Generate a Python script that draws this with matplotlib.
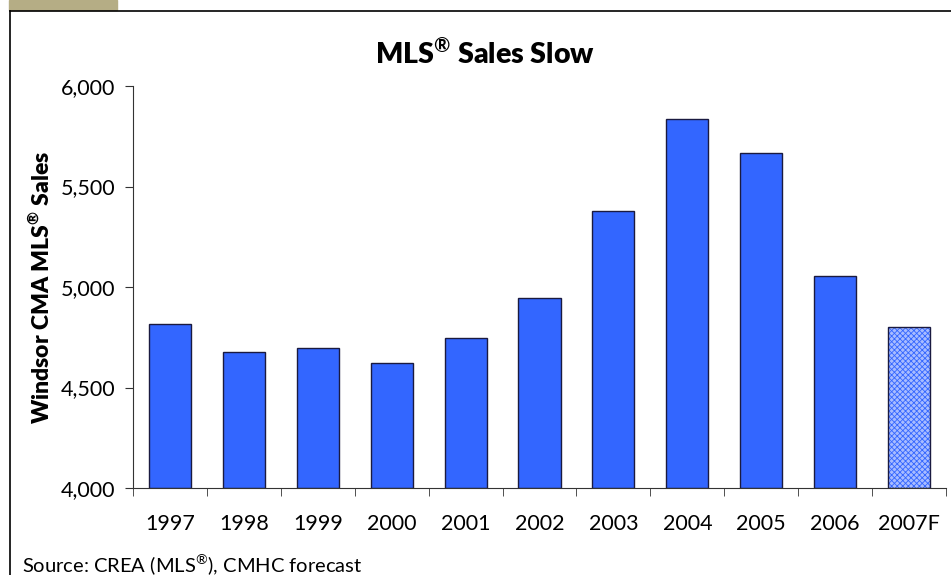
import matplotlib.pyplot as plt
from matplotlib.patches import Rectangle
import numpy as np

plt.rcParams['font.family'] = ['Lato', 'DejaVu Sans']
plt.rcParams['mathtext.fontset'] = 'custom'
plt.rcParams['mathtext.rm'] = 'Lato'
plt.rcParams['mathtext.bf'] = 'Lato:bold'
plt.rcParams['hatch.linewidth'] = 0.6

# data
years = ['1997', '1998', '1999', '2000', '2001', '2002', '2003', '2004', '2005', '2006', '2007F']
sales = [4815, 4675, 4695, 4620, 4745, 4945, 5380, 5835, 5665, 5055, 4800]
forecast = [False] * 10 + [True]

fig = plt.figure(figsize=(9.51, 5.75), dpi=100)

# frame lines and tan tab at top-left
fig.patches.append(Rectangle((9 / 951, 1 - 10 / 575), 108 / 951, 10 / 575,
                             transform=fig.transFigure, color='#b5ad85', zorder=0))
fig.add_artist(plt.Line2D([10 / 951, 1], [1 - 11 / 575, 1 - 11 / 575],
                          transform=fig.transFigure, color='black', lw=1.2))
fig.add_artist(plt.Line2D([10 / 951, 10 / 951], [0, 1 - 11 / 575],
                          transform=fig.transFigure, color='black', lw=1.2))

ax = fig.add_axes([133 / 951, 1 - 488 / 575, 813 / 951, 402 / 575])

x = np.arange(len(years))
for xi, v, f in zip(x, sales, forecast):
    if f:
        # forecast bar: light dotted fill
        ax.bar(xi, v - 4000, bottom=4000, width=0.57, color='#a8bcff',
               edgecolor='#3366ff', hatch='xxxxxx', lw=0)
        ax.bar(xi, v - 4000, bottom=4000, width=0.57, fill=False,
               edgecolor='#1a1a40', lw=1)
    else:
        ax.bar(xi, v - 4000, bottom=4000, width=0.57, color='#3366ff',
               edgecolor='#1a1a40', lw=1)

ax.set_xlim(-0.5, len(years) - 0.5)
ax.set_ylim(4000, 6000)
ax.set_yticks([4000, 4500, 5000, 5500, 6000])
ax.set_yticklabels(['4,000', '4,500', '5,000', '5,500', '6,000'], fontsize=15.5)

# category labels, ticks between categories
ax.set_xticks(x)
ax.set_xticklabels(years, fontsize=15.5)
ax.tick_params(axis='x', length=0, pad=19)
ax.set_xticks(np.arange(-0.5, len(years)), minor=True)
ax.tick_params(axis='x', which='minor', length=6, direction='out', color='#333333')
ax.tick_params(axis='y', length=6, direction='out', color='#333333', pad=7)

ax.spines['top'].set_visible(False)
ax.spines['right'].set_visible(False)
ax.spines['left'].set_color('#333333')
ax.spines['bottom'].set_color('#333333')

ax.set_ylabel('Windsor CMA MLS$^{\\mathbf{®}}$ Sales', fontsize=16.5, fontweight='heavy')
ax.yaxis.set_label_coords(-0.098, 0.5)

fig.text(485 / 951, 1 - 53 / 575, 'MLS$^{\\mathbf{®}}$ Sales Slow', ha='center', va='center',
         fontsize=20.5, fontweight='heavy', transform=fig.transFigure)
fig.text(22 / 951, 1 - 572 / 575, 'Source: CREA (MLS$^{\\mathrm{®}}$), CMHC forecast',
         ha='left', va='baseline', fontsize=14.5)

fig.savefig('out.png', dpi=100)
